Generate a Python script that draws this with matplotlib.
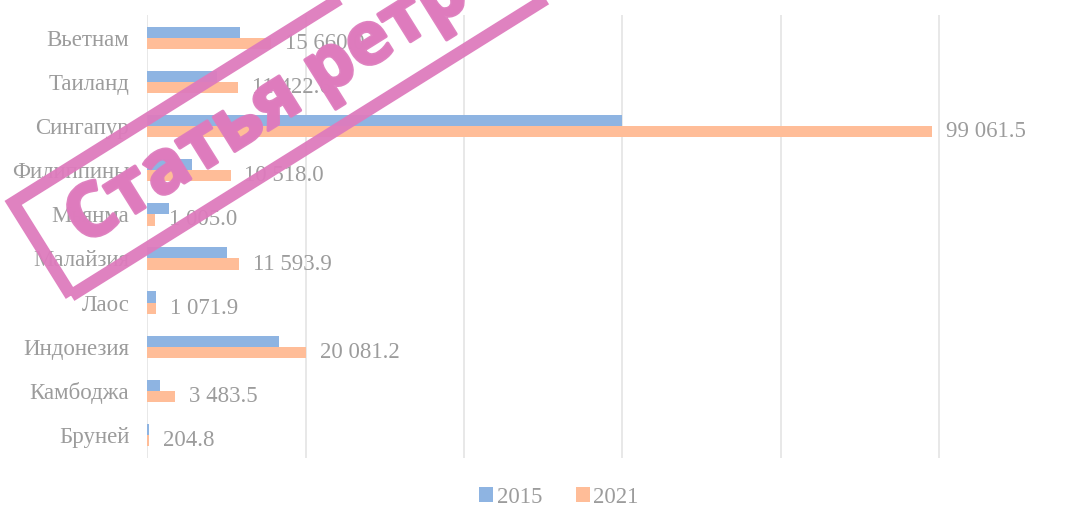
import matplotlib.pyplot as plt
import matplotlib.patheffects as pe
import numpy as np

# Данные (ПИИ, млн долл.)
countries = ["Вьетнам", "Таиланд", "Сингапур", "Филиппины", "Мьянма",
             "Малайзия", "Лаос", "Индонезия", "Камбоджа", "Бруней"]
vals_2015 = [11700, 8800, 60000, 5600, 2800, 10100, 1050, 16600, 1650, 170]
vals_2021 = [15660.0, 11422.6, 99061.5, 10518.0, 1005.0,
             11593.9, 1071.9, 20081.2, 3483.5, 204.8]
labels_2021 = ["15 660.0", "11 422.6", "99 061.5", "10 518.0", "1 005.0",
               "11 593.9", "1 071.9", "20 081.2", "3 483.5", "204.8"]

blue = "#8EB4E2"
orange = "#FFBD98"
grey_txt = "#9C9C9C"
pink = "#DE7BBD"

plt.rcParams["font.family"] = ["Liberation Serif", "DejaVu Serif"]

fig = plt.figure(figsize=(10.92, 5.12), dpi=100)
ax = fig.add_axes([0.1349, 0.1055, 1 - 0.1349, 0.8655])

y = np.arange(len(countries))
h = 0.255
ax.barh(y - h / 2, vals_2015, height=h, color=blue, label="2015", zorder=2)
bars21 = ax.barh(y + h / 2, vals_2021, height=h, color=orange, label="2021", zorder=2)
ax.bar_label(bars21, labels=labels_2021, padding=10, fontsize=16.5, color=grey_txt)

ax.set_ylim(len(countries) - 0.5 + 0.02, -0.5 - 0.02)
ax.set_xlim(0, 119300)
ax.set_xticks([0, 20000, 40000, 60000, 80000, 100000])
ax.set_xticklabels([])
ax.set_yticks(y)
ax.set_yticklabels(countries, fontsize=16.5, color=grey_txt)
ax.tick_params(axis="both", length=0, pad=13)
ax.grid(axis="x", color="#E4E4E4", linewidth=1.2, zorder=0)
for s in ax.spines.values():
    s.set_visible(False)

leg = fig.legend(loc="lower center", bbox_to_anchor=(0.512, -0.032), ncol=2,
                 frameon=False, fontsize=16.5, handlelength=0.6, handleheight=0.6,
                 handletextpad=0.15, columnspacing=1.5)
for t in leg.get_texts():
    t.set_color(grey_txt)

# штамп поверх графика
fig.text(0.0615, 0.50, " Статья ретрагирована", family=["Open Sans", "DejaVu Sans"],
         fontweight="bold", fontsize=53, color=pink, rotation=32,
         rotation_mode="anchor", ha="left", va="baseline", alpha=0.95, zorder=10,
         path_effects=[pe.withStroke(linewidth=2.5, foreground=pink)],
         bbox=dict(boxstyle="square,pad=0.24", fc="none", ec=pink, lw=9, alpha=0.95))

fig.savefig("out.png", dpi=100)
plt.close(fig)
